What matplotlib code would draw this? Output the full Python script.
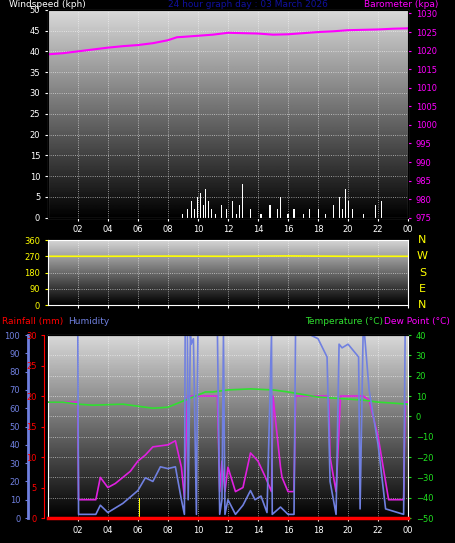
import numpy as np
import matplotlib as mpl
mpl.use('Agg')
import matplotlib.pyplot as plt

# --- data (hours 0-24) ---
baro_t = [0, 1, 2, 3, 4, 5, 6, 7, 8, 8.6, 9, 10, 11, 12, 13, 14, 15, 16, 17, 18, 19, 20, 21, 22, 23, 24]
baro_v = [1019, 1019.3, 1019.8, 1020.3, 1020.8, 1021.2, 1021.5, 1022.0, 1022.8, 1023.6, 1023.7, 1024.0, 1024.3, 1024.8, 1024.7, 1024.6, 1024.3, 1024.4, 1024.7, 1025.0, 1025.2, 1025.5, 1025.6, 1025.7, 1025.9, 1026.0]

wind_t = [9.0, 9.3, 9.6, 9.8, 10.0, 10.2, 10.4, 10.5, 10.7, 10.9, 11.2, 11.6, 11.9, 12.3, 12.6, 12.8, 13.0, 13.5, 14.2, 14.8, 15.3, 15.5, 16.0, 16.4, 17.0, 17.4, 18.0, 18.5, 19.0, 19.4, 19.6, 19.8, 20.0, 20.3, 21.0, 21.8, 22.2]
wind_v = [1, 2, 4, 2, 5, 6, 3, 7, 4, 2, 1, 3, 2, 4, 1, 3, 8, 2, 1, 3, 2, 5, 1, 2, 1, 2, 2, 1, 3, 5, 2, 7, 4, 2, 1, 3, 4]

dir_t = [0, 4, 8, 12, 16, 20, 24]
dir_v = [270, 270, 271, 270, 272, 270, 270]

hum_t = [0, 2.0, 2.05, 3.2, 3.5, 4.0, 5.0, 6.0, 6.5, 7.0, 7.5, 8.0, 8.5, 8.9, 9.1, 9.15, 9.3, 9.35, 9.5, 9.55, 9.7, 9.9, 10.0, 11.3, 11.45, 11.6, 11.7, 11.8, 12.0, 12.5, 13.0, 13.5, 13.8, 14.2, 14.6, 14.9, 14.95, 15.5, 16.0, 16.4, 16.5, 17.5, 18.0, 18.6, 18.8, 19.2, 19.4, 19.6, 20.0, 20.7, 20.8, 21.0, 21.1, 21.4, 22.0, 22.5, 23.7, 23.8, 24]
hum_v = [100, 100, 2, 2, 7, 3, 8, 15, 22, 20, 28, 27, 28, 10, 2, 100, 100, 10, 100, 95, 98, 2, 100, 100, 2, 10, 100, 2, 10, 2, 7, 15, 10, 12, 3, 100, 2, 6, 2, 2, 100, 100, 98, 88, 20, 2, 95, 93, 95, 88, 5, 100, 100, 70, 40, 5, 2, 100, 100]

tmp_t = [0, 1, 2, 3, 5, 7, 8, 8.5, 9.5, 10.5, 11, 12, 13.5, 15, 16, 18, 19, 21, 22, 23, 24]
tmp_v = [7, 7, 6, 5.5, 6, 4, 4.5, 6, 9, 12, 12, 13, 13.5, 13, 12, 9.5, 9, 8, 7, 6.5, 6]

dew_t = [0, 2.0, 2.05, 3.2, 3.5, 4.0, 4.5, 5.0, 5.5, 6.0, 6.5, 7.0, 8.0, 8.5, 8.9, 9.1, 9.3, 9.5, 9.9, 10.0, 11.3, 11.45, 11.6, 11.8, 12.0, 12.5, 13.0, 13.5, 14.0, 14.5, 14.9, 15.0, 15.5, 15.6, 16.0, 16.4, 16.5, 18.7, 18.8, 19.2, 19.5, 21.0, 21.4, 22.0, 22.7, 23.7, 23.8, 24]
dew_v = [7, 7, -41, -41, -30, -35, -33, -30, -27, -22, -19, -15, -14, -12, -25, -40, 10, 10, 10, 10, 10, -37, -22, -37, -25, -37, -35, -18, -22, -30, -37, 10, -25, -30, -37, -37, 10, 10, -20, -37, 10, 10, 8, -10, -41, -41, 7, 7]

rain_t = [0, 24]
rain_v = [0, 0]

hours = list(range(2, 25, 2))
hour_labels = ['%02d' % (h % 24) for h in hours]

fig = plt.figure(figsize=(4.55, 5.43), dpi=100, facecolor='black')
plt.rcParams['font.size'] = 6

grad = np.linspace(0.85, 0.0, 256).reshape(-1, 1)


def panel(rect):
    ax = fig.add_axes(rect)
    ax.set_facecolor('black')
    ax.imshow(grad, cmap='gray', vmin=0, vmax=1, aspect='auto', extent=[0, 1, 0, 1],
              transform=ax.transAxes, zorder=0)
    ax.set_xlim(0, 24)
    ax.set_xticks(hours)
    ax.set_xticklabels(hour_labels, color='yellow', fontsize=6)
    ax.grid(True, color='white', ls=':', lw=0.6, alpha=0.7)
    for s in ax.spines.values():
        s.set_color('white')
    ax.tick_params(colors='white', length=2)
    return ax


# top panel: wind + barometer
ax1 = panel([0.105, 0.599, 0.792, 0.383])
ax1.bar(wind_t, wind_v, width=0.07, color='white', zorder=3)
ax1.set_ylim(0, 50)
ax1.set_yticks(range(0, 51, 5))
ax1.tick_params(axis='y', colors='white')
ax1b = ax1.twinx()
ax1b.plot(baro_t, baro_v, color='magenta', lw=1.5)
ax1b.set_ylim(975, 1031)
ax1b.set_yticks(range(975, 1031, 5))
ax1b.tick_params(axis='y', colors='magenta', length=2)
fig.text(0.02, 0.987, 'Windspeed (kph)', color='white', fontsize=6.5)
fig.text(0.37, 0.987, '24 hour graph day : 03 March 2026', color='#1010a0', fontsize=6.5)
fig.text(0.80, 0.987, 'Barometer (kpa)', color='magenta', fontsize=6.5)

# middle panel: wind direction
ax2 = panel([0.105, 0.438, 0.792, 0.120])
ax2.plot(dir_t, dir_v, color='yellow', lw=1.2)
ax2.set_ylim(0, 360)
ax2.set_yticks(range(0, 361, 90))
ax2.tick_params(axis='y', colors='yellow')
ax2.set_xticklabels([])
for i, lab in enumerate(['N', 'W', 'S', 'E', 'N']):
    ax2.text(1.04, 1.0 - i * 0.25, lab, transform=ax2.transAxes, color='yellow',
             fontsize=8, ha='center', va='center')

# bottom panel: temperature, dew point, humidity, rainfall
ax3 = panel([0.105, 0.046, 0.792, 0.337])
ax3.set_ylim(-50, 40)
ax3.plot(dew_t, dew_v, color='#e020e0', lw=1.2, zorder=4)
ax3.plot(tmp_t, tmp_v, color='#30e030', lw=1.2, zorder=5)
ax3.bar([6.1, 18.2], [10, 10], bottom=-50, width=0.05, color='yellow', zorder=3)

axh = ax3.twinx()
axh.yaxis.tick_left()
axh.spines['left'].set_position(('axes', -0.055))
axh.spines['left'].set_color('#7080e0')
axh.spines['left'].set_linewidth(2)
axh.spines['right'].set_visible(False)
axh.plot(hum_t, hum_v, color='#7080e0', lw=1.2, zorder=3)
axh.set_ylim(0, 100)
axh.set_yticks(range(0, 101, 10))
axh.tick_params(axis='y', colors='#7080e0', length=2)

axr = ax3.twinx()
axr.yaxis.tick_left()
axr.spines['left'].set_position(('axes', -0.01))
axr.spines['left'].set_color('red')
axr.spines['right'].set_visible(False)
axr.plot(rain_t, rain_v, color='red', lw=2.5, zorder=6, clip_on=False)
axr.set_ylim(0, 30)
axr.set_yticks(range(0, 31, 5))
axr.tick_params(axis='y', colors='red', length=2)

ax3.yaxis.tick_right()
ax3.set_yticks(range(-50, 41, 10))
ax3.tick_params(axis='y', colors='#20e020', labelcolor='#20e020')

fig.text(0.005, 0.403, 'Rainfall (mm)', color='red', fontsize=6.5)
fig.text(0.15, 0.403, 'Humidity', color='#7080e0', fontsize=6.5)
fig.text(0.67, 0.403, 'Temperature (°C)', color='#30e030', fontsize=6.5)
fig.text(0.845, 0.403, 'Dew Point (°C)', color='magenta', fontsize=6.5)

fig.savefig('out.png', facecolor='black')
